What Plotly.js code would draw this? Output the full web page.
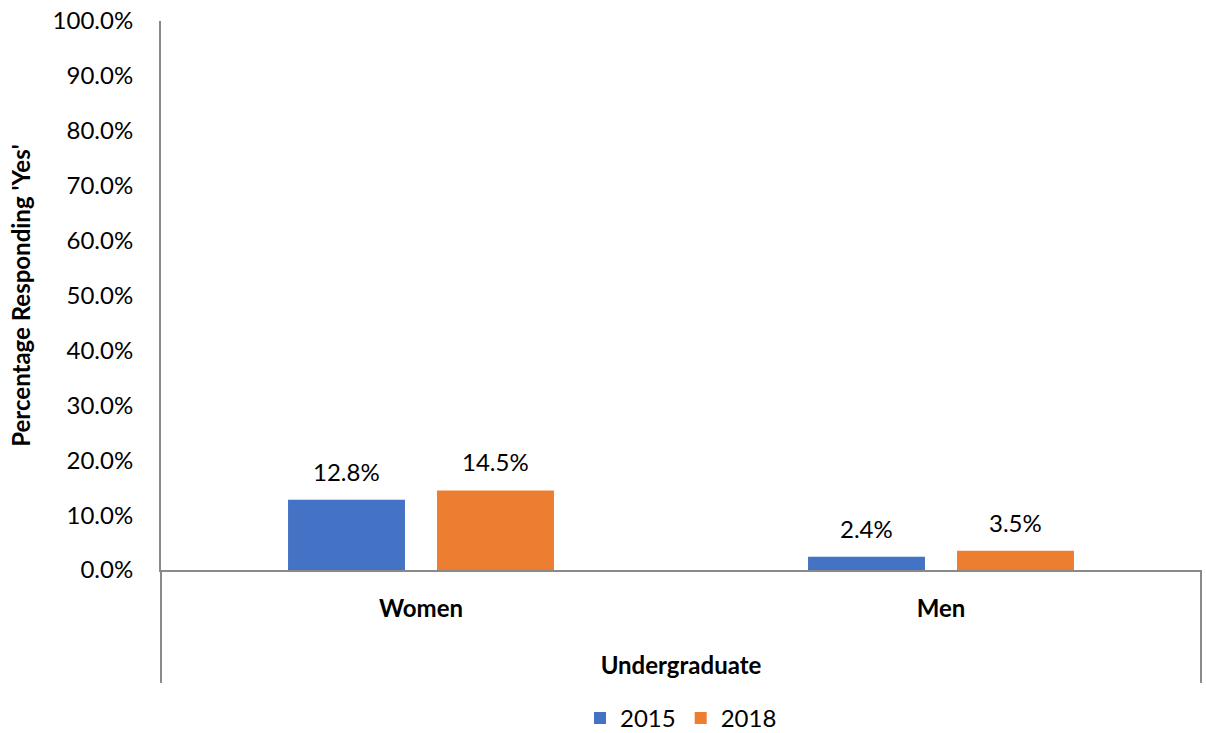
<!DOCTYPE html>
<html>
<head>
<meta charset="utf-8">
<script src="https://cdn.plot.ly/plotly-3.0.1.min.js"></script>
<style>html,body{margin:0;padding:0;background:#fff;}#chart{width:1206px;height:733px;}</style>
</head>
<body>
<div id="chart"></div>
<script>
const categories = ["Women", "Men"];
const years = ["2015", "2018"];
const values2015 = [12.8, 2.4];
const values2018 = [14.5, 3.5];
const yTickVals = [0,10,20,30,40,50,60,70,80,90,100];

const FONT = "Lato, 'Open Sans', sans-serif";
const FS = 24;
const colors = ["#4472C4", "#ED7D31"];
const series = [values2015, values2018];

const traces = series.map((vals, i) => ({
  type: "bar",
  name: years[i],
  x: categories,
  y: vals,
  marker: {color: colors[i]},
  hoverinfo: "none"
}));

// value labels placed at each bar's data position (offset to its slot in the group)
const annotations = [];
series.forEach((vals, i) => {
  vals.forEach((v, j) => {
    annotations.push({
      x: categories[j], y: v, xref: "x", yref: "y",
      text: v.toFixed(1) + "%", showarrow: false,
      xanchor: "center", yanchor: "bottom",
      xshift: (i === 0 ? -74.5 : 74.5), yshift: 12,
      font: {family: FONT, size: FS, color: "#000"}
    });
  });
});

const layout = {
  width: 1206, height: 733,
  margin: {l: 161, r: 5, t: 21, b: 163},
  paper_bgcolor: "#fff", plot_bgcolor: "#fff",
  barmode: "group",
  bargap: 0.427,
  bargroupgap: 0.215,
  font: {family: FONT, color: "#000"},
  showlegend: true,
  legend: {orientation: "h", x: 0.5, xanchor: "center", xref: "paper", y: 0.02, yref: "container", yanchor: "middle",
           font: {family: FONT, size: FS, color: "#000"}, traceorder: "normal", itemwidth: 30},
  xaxis: {
    automargin: false,
    showline: true, linecolor: "#898989", linewidth: 2,
    showgrid: false, zeroline: false, ticks: "", ticklabelstandoff: 16,
    tickfont: {family: FONT, size: FS, color: "#000", weight: "bold"},
    title: {text: "<b>Undergraduate</b>", font: {family: FONT, size: FS, color: "#000"}, standoff: 36},
    fixedrange: true
  },
  yaxis: {
    automargin: false,
    range: [0, 100], tickvals: yTickVals,
    ticktext: yTickVals.map(v => v.toFixed(1) + "%"),
    showline: true, linecolor: "#898989", linewidth: 2,
    showgrid: false, zeroline: false, ticks: "", ticklabelstandoff: 21,
    tickfont: {family: FONT, size: FS, color: "#000"},
    title: {text: "<b>Percentage Responding 'Yes'</b>", font: {family: FONT, size: FS, color: "#000"}, standoff: 15},
    fixedrange: true
  },
  annotations: annotations,
  shapes: [
    {type: "line", xref: "paper", yref: "paper", x0: 0, x1: 0, y0: 0, y1: -0.206, line: {color: "#898989", width: 2}},
    {type: "line", xref: "paper", yref: "paper", x0: 1, x1: 1, y0: 0, y1: -0.206, line: {color: "#898989", width: 2}}
  ]
};

Plotly.newPlot("chart", traces, layout, {displayModeBar: false, staticPlot: true});
</script>
</body>
</html>
